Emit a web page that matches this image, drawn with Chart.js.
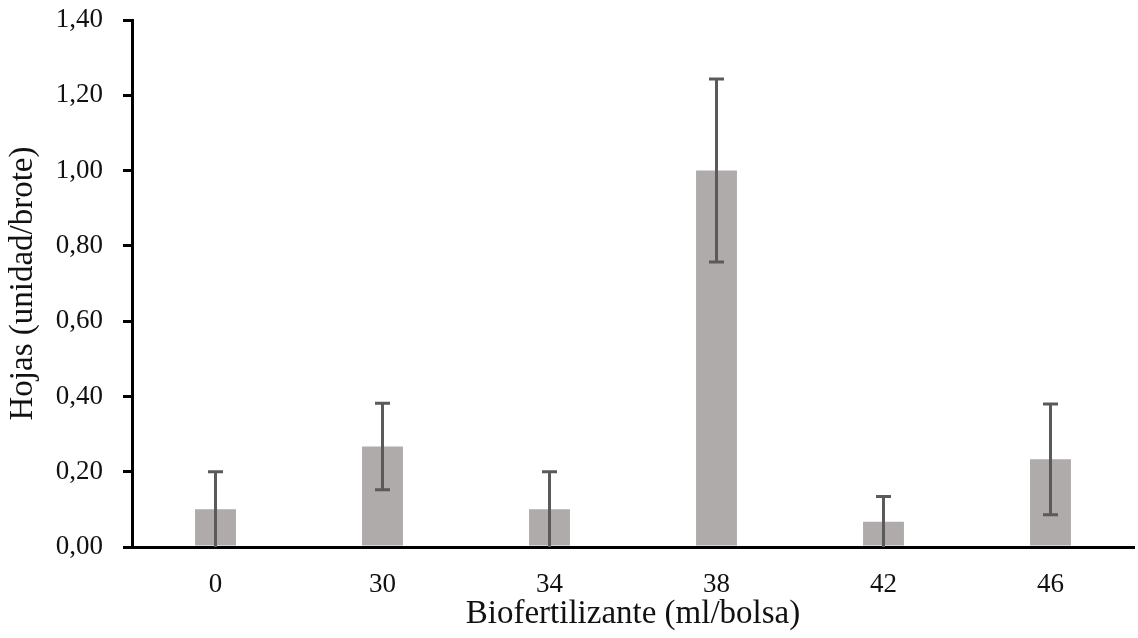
<!DOCTYPE html>
<html>
<head>
<meta charset="utf-8">
<script src="https://cdn.jsdelivr.net/npm/chart.js@4/dist/chart.umd.min.js"></script>
<style>
  html, body { margin: 0; padding: 0; background: #fff; }
  #wrap { width: 1138px; height: 638px; position: relative; }
</style>
</head>
<body>
<div id="wrap"><canvas id="c" width="1138" height="638"></canvas></div>
<script>
const categories = ['0', '30', '34', '38', '42', '46'];
const values = [0.10, 0.267, 0.10, 1.00, 0.067, 0.233];
const errors = [0.10, 0.115, 0.10, 0.243, 0.067, 0.147];
const yTicks = { min: 0, max: 1.4, step: 0.2 };
const xTitle = 'Biofertilizante (ml/bolsa)';
const yTitle = 'Hojas (unidad/brote)';

const FONT = "'Liberation Serif', 'Times New Roman', serif";

const errorBars = {
  id: 'errorBars',
  afterDatasetsDraw(chart) {
    const ctx = chart.ctx;
    const meta = chart.getDatasetMeta(0);
    const y = chart.scales.y;
    ctx.save();
    ctx.strokeStyle = '#5a5a5a';
    ctx.lineWidth = 3;
    meta.data.forEach((bar, i) => {
      const x = bar.x;
      const top = y.getPixelForValue(values[i] + errors[i]);
      const bot = y.getPixelForValue(Math.max(0, values[i] - errors[i]));
      ctx.beginPath();
      ctx.moveTo(x, top);
      ctx.lineTo(x, bot);
      ctx.moveTo(x - 7.5, top);
      ctx.lineTo(x + 7.5, top);
      if (values[i] - errors[i] > 0.002) {
        ctx.moveTo(x - 7.5, bot);
        ctx.lineTo(x + 7.5, bot);
      }
      ctx.stroke();
    });
    ctx.restore();
  }
};

new Chart(document.getElementById('c'), {
  type: 'bar',
  data: {
    labels: categories,
    datasets: [{
      data: values,
      backgroundColor: '#aeabaa',
      borderWidth: 0,
      barPercentage: 0.245,
      categoryPercentage: 1.0
    }]
  },
  options: {
    responsive: false,
    animation: false,
    devicePixelRatio: 1,
    layout: { padding: { top: 20, right: 4, left: 0, bottom: 0 } },
    plugins: { legend: { display: false }, tooltip: { enabled: false } },
    scales: {
      x: {
        grid: { display: false },
        border: { display: true, color: '#000', width: 3 },
        ticks: { color: '#111', font: { family: FONT, size: 27 }, padding: 14 },
        title: { display: true, text: xTitle, color: '#111', font: { family: FONT, size: 33 }, padding: { top: 10 } },
        afterFit(s) { s.height = 91; s.paddingLeft = 0; s.paddingRight = 0; }
      },
      y: {
        min: yTicks.min,
        max: yTicks.max,
        grid: { drawOnChartArea: false, drawTicks: true, tickLength: 9, color: '#000', lineWidth: 3 },
        border: { display: true, color: '#000', width: 3 },
        ticks: {
          stepSize: yTicks.step,
          color: '#111',
          font: { family: FONT, size: 27 },
          padding: 20,
          callback: v => v.toFixed(2).replace('.', ',')
        },
        title: { display: true, text: yTitle, color: '#111', font: { family: FONT, size: 33 }, padding: { top: 4, bottom: 4 } },
        afterFit(s) { s.width = 132; s.paddingTop = 0; s.paddingBottom = 0; }
      }
    }
  },
  plugins: [errorBars]
});
</script>
</body>
</html>
